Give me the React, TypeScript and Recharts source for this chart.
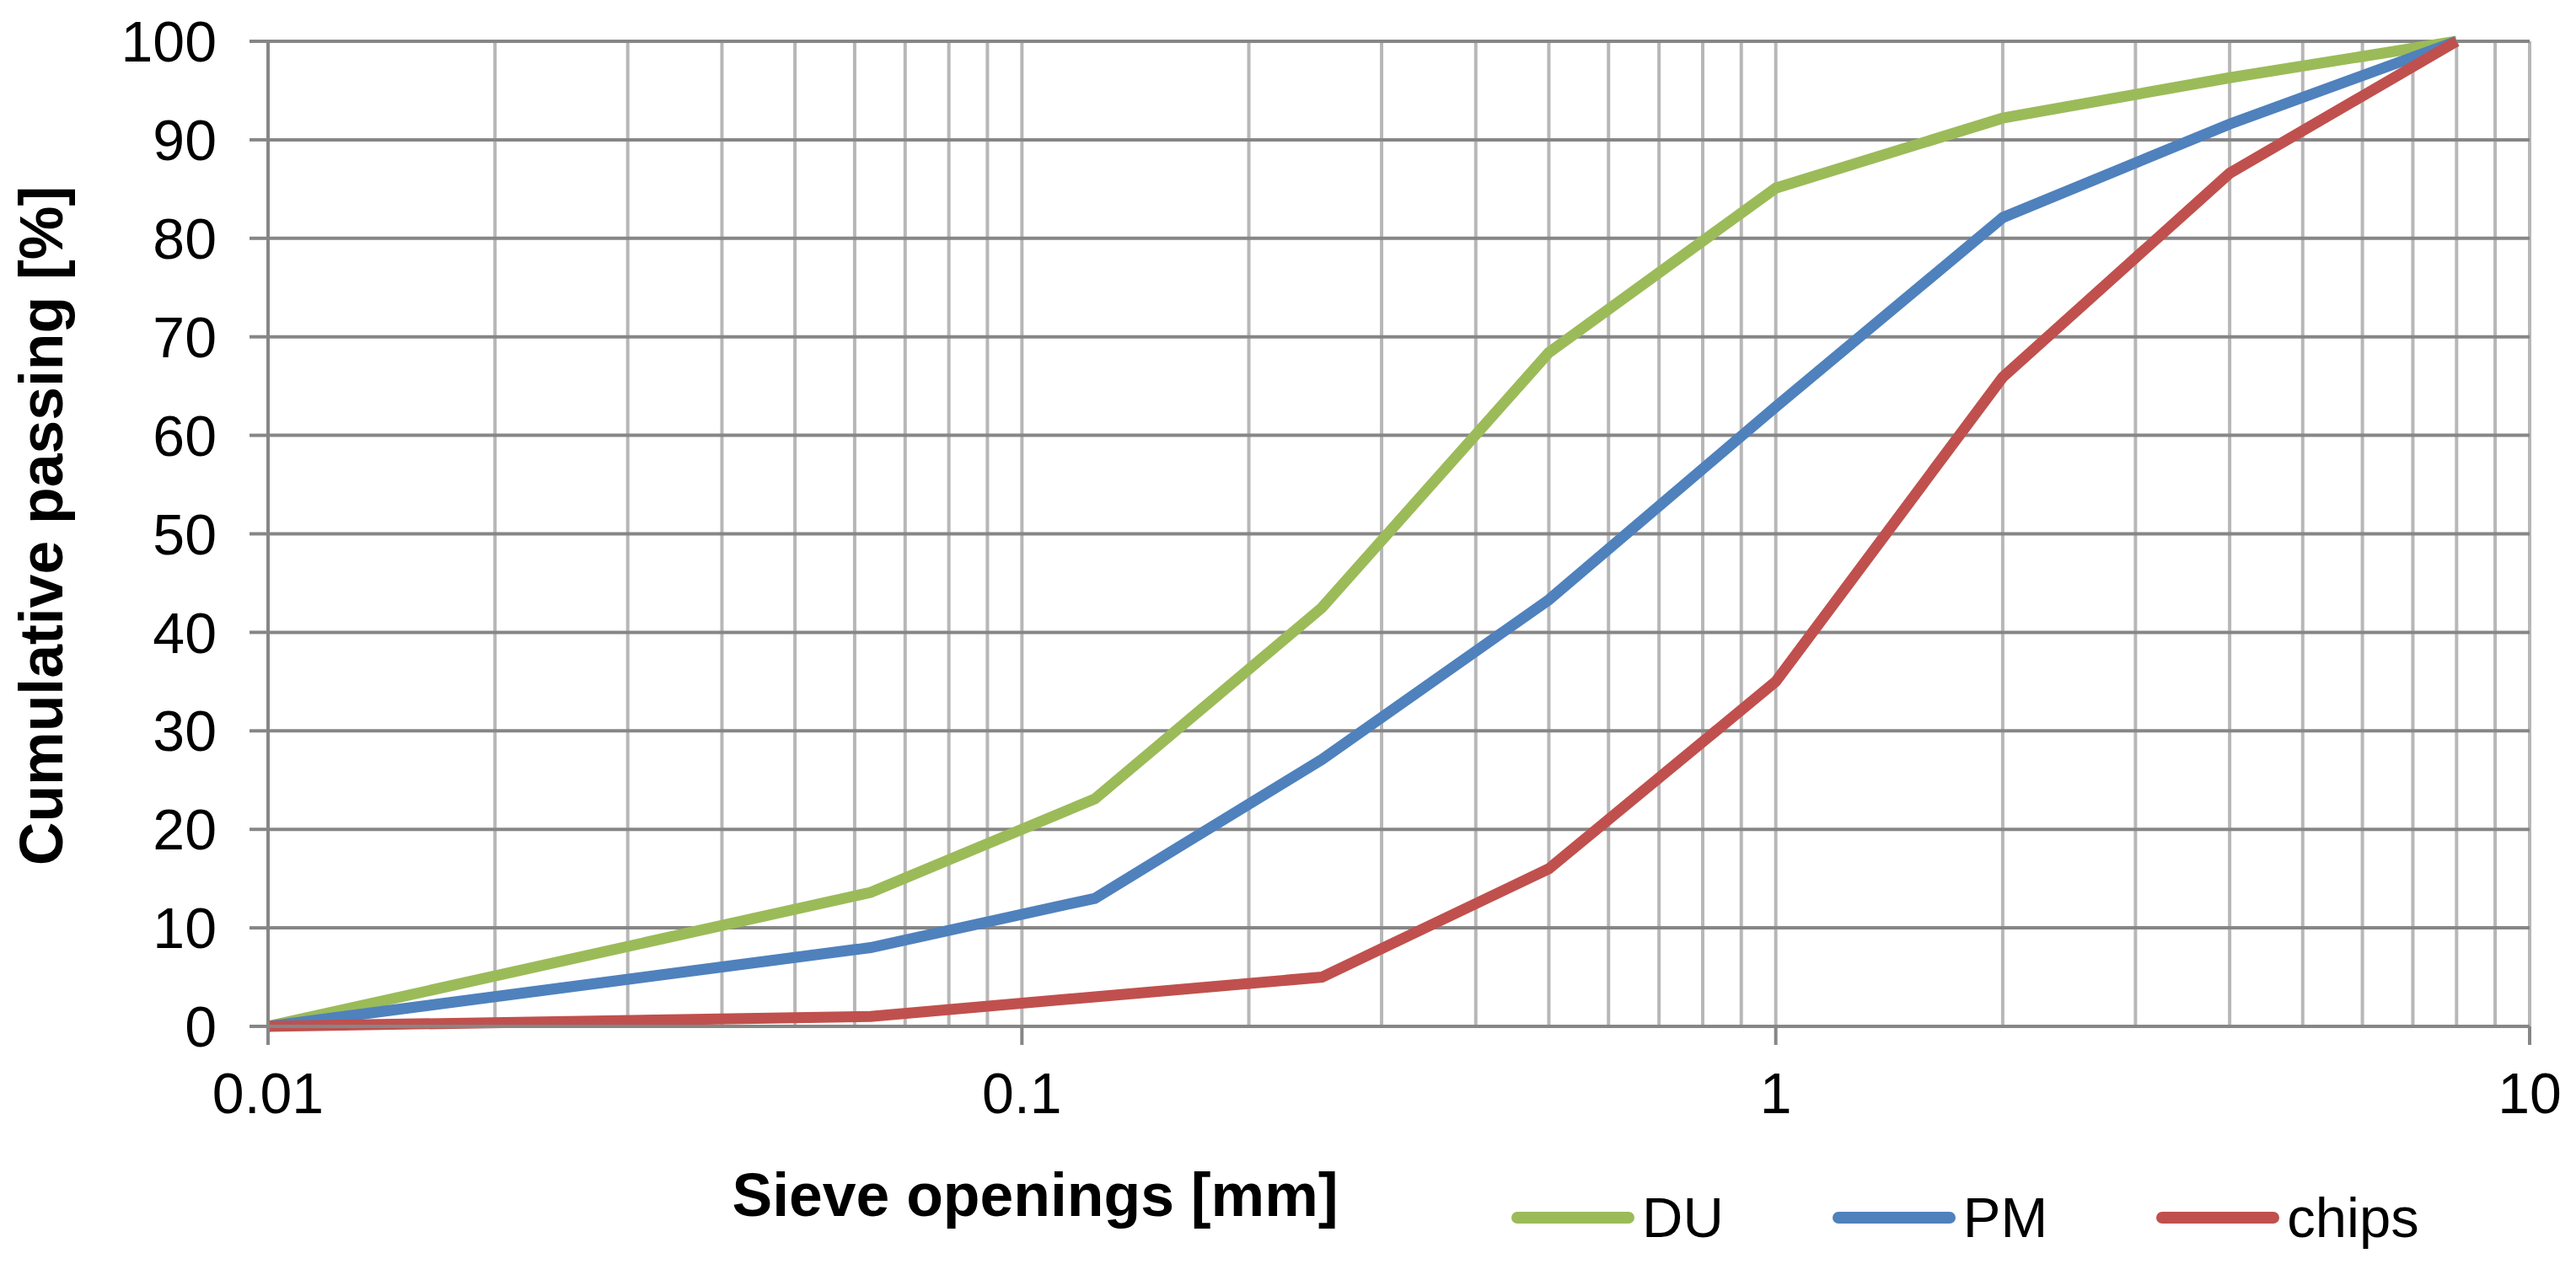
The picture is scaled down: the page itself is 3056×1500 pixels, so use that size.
import { LineChart, Line, XAxis, YAxis, CartesianGrid } from "recharts"

// sieve openings [mm] and cumulative passing [%]
const sieveSizes = [0.01, 0.063, 0.125, 0.25, 0.5, 1, 2, 4, 8]
const duPassing = [0, 13.6, 23.1, 42.5, 68.4, 85.1, 92.2, 96.3, 100]
const pmPassing = [0, 8, 13, 27.1, 43.3, 62.9, 82.1, 91.6, 100]
const chipsPassing = [0, 1, 3, 5, 16, 35, 65.9, 86.6, 100]

const xTicks = [0.01, 0.1, 1, 10]
const yTicks = [0, 10, 20, 30, 40, 50, 60, 70, 80, 90, 100]
const logGrid = [
  0.02, 0.03, 0.04, 0.05, 0.06, 0.07, 0.08, 0.09, 0.1,
  0.2, 0.3, 0.4, 0.5, 0.6, 0.7, 0.8, 0.9, 1,
  2, 3, 4, 5, 6, 7, 8, 9, 10,
]

const series = [
  { key: "DU", color: "#9BBB59" },
  { key: "PM", color: "#4F81BD" },
  { key: "chips", color: "#C0504D" },
]

const data = sieveSizes.map((size, i) => ({
  size,
  DU: duPassing[i],
  PM: pmPassing[i],
  chips: chipsPassing[i],
}))

const font = "Arial, 'Liberation Sans', sans-serif"
const axisGray = "#868686"

export default function App() {
  return (
    <div style={{ position: "absolute", left: 0, top: 0, width: 3056, height: 1500, background: "#fff", fontFamily: font }}>
      <LineChart
        width={3056}
        height={1500}
        data={data}
        margin={{ top: 49, right: 55, bottom: 182, left: 118 }}
      >
        <CartesianGrid horizontal={false} verticalValues={logGrid} stroke="#b7b7b7" strokeWidth={4} />
        <CartesianGrid vertical={false} horizontalValues={yTicks} stroke={axisGray} strokeWidth={4} />
        <XAxis
          dataKey="size"
          type="number"
          scale="log"
          domain={[0.01, 10]}
          ticks={xTicks}
          interval={0}
          allowDataOverflow
          height={100}
          tickFormatter={(v) => String(v)}
          tick={{ fill: "#000", fontSize: 68, fontFamily: font }}
          tickSize={22}
          tickMargin={33}
          axisLine={{ stroke: axisGray, strokeWidth: 4 }}
          tickLine={{ stroke: axisGray, strokeWidth: 4 }}
        />
        <YAxis
          type="number"
          domain={[0, 100]}
          ticks={yTicks}
          interval={0}
          width={200}
          tick={{ fill: "#000", fontSize: 68, fontFamily: font }}
          tickSize={22}
          tickMargin={39}
          axisLine={{ stroke: axisGray, strokeWidth: 4 }}
          tickLine={{ stroke: axisGray, strokeWidth: 4 }}
        />
        {series.map(s => (
          <Line
            key={s.key}
            type="linear"
            dataKey={s.key}
            stroke={s.color}
            strokeWidth={13}
            dot={false}
            activeDot={false}
            isAnimationActive={false}
          />
        ))}
      </LineChart>

      <svg width={3056} height={1500} style={{ position: "absolute", left: 0, top: 0, pointerEvents: "none" }}>
        <text x={1228} y={1443} textAnchor="middle" fontSize={71.5} fontWeight="bold" fontFamily={font} fill="#000">
          Sieve openings [mm]
        </text>
        <text
          x={0}
          y={0}
          transform="translate(74 624) rotate(-90)"
          textAnchor="middle"
          fontSize={71.5}
          fontWeight="bold"
          fontFamily={font}
          fill="#000"
        >
          Cumulative passing [%]
        </text>
      </svg>

      <div style={{ position: "absolute", left: 1793, top: 1405, display: "flex", alignItems: "center", height: 80 }}>
        {series.map((s, i) => (
          <div key={s.key} style={{ display: "flex", alignItems: "center", marginRight: i < series.length - 1 ? 129 : 0 }}>
            <svg width={146} height={16}>
              <line x1={7} y1={8} x2={139} y2={8} stroke={s.color} strokeWidth={14} strokeLinecap="round" />
            </svg>
            <span style={{ marginLeft: 9, fontSize: 67, lineHeight: "80px", color: "#000" }}>{s.key}</span>
          </div>
        ))}
      </div>
    </div>
  )
}
